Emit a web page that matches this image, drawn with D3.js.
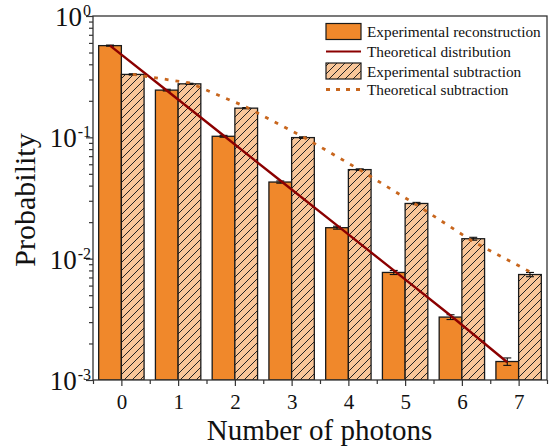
<!DOCTYPE html>
<html>
<head>
<meta charset="utf-8">
<script src="https://cdn.jsdelivr.net/npm/d3@7"></script>
<style>
  html, body { margin: 0; padding: 0; background: #fff; }
  svg { display: block; }
  text { font-family: "Liberation Serif", "Times New Roman", serif; fill: #111; }
</style>
</head>
<body>
<svg id="chart" width="550" height="448"></svg>
<script>
// ---- data ----
const photons = [0, 1, 2, 3, 4, 5, 6, 7];
const reconstruction = [0.57, 0.245, 0.102, 0.0428, 0.0180, 0.0077, 0.0033, 0.00142];
const reconstructionErr = [0.006, 0.004, 0.0018, 0.0009, 0.0005, 0.0003, 0.00015, 0.0001];
const subtraction = [0.33, 0.276, 0.174, 0.0995, 0.0542, 0.0285, 0.0146, 0.0074];
const subtractionErr = [0.004, 0.003, 0.002, 0.0015, 0.0008, 0.0006, 0.0004, 0.0003];
const theoryDistribution = [0.57, 0.243, 0.1035, 0.0441, 0.0188, 0.0080, 0.0034, 0.00140];
const theorySubtraction = [0.33, 0.281, 0.178, 0.101, 0.054, 0.0278, 0.0138, 0.0078];
const yTickValues = [1e-3, 1e-2, 1e-1, 1];
const yTickExponents = ["-3", "-2", "-1", "0"];
const legendLabels = ["Experimental reconstruction", "Theoretical distribution", "Experimental subtraction", "Theoretical subtraction"];
const xTitle = "Number of photons";
const yTitle = "Probability";

// ---- layout ----
const mLeft = 93, mRight = 547, mTop = 16, mBottom = 380;
const svg = d3.select("#chart");

const x = d3.scaleLinear().domain([-0.5, 7.5]).range([mLeft, mRight]);
const y = d3.scaleLog().domain([1e-3, 1]).range([mBottom, mTop]);
const bw = 0.4;

const ORANGE = "#f0882b";
const LIGHT = "#f9c699";
const DOTC = "#c8661d";

// hatch pattern
const defs = svg.append("defs");
const pat = defs.append("pattern").attr("id", "hatch")
  .attr("patternUnits", "userSpaceOnUse").attr("width", 8).attr("height", 8);
pat.append("rect").attr("width", 8).attr("height", 8).attr("fill", LIGHT);
pat.append("path").attr("d", "M-2,2 L2,-2 M0,8 L8,0 M6,10 L10,6")
  .attr("stroke", "#222").attr("stroke-width", 1);

defs.append("clipPath").attr("id", "clip").append("rect")
  .attr("x", mLeft).attr("y", mTop).attr("width", mRight - mLeft).attr("height", mBottom - mTop);

const plot = svg.append("g").attr("clip-path", "url(#clip)");

// bars
plot.selectAll("rect.rec").data(photons).join("rect").attr("class", "rec")
  .attr("x", d => x(d - bw))
  .attr("width", x(bw) - x(0))
  .attr("y", (d, i) => y(reconstruction[i]))
  .attr("height", (d, i) => mBottom - y(reconstruction[i]))
  .attr("fill", ORANGE).attr("stroke", "#1a1a1a").attr("stroke-width", 1.3);

plot.selectAll("rect.sub").data(photons).join("rect").attr("class", "sub")
  .attr("x", d => x(d))
  .attr("width", x(bw) - x(0))
  .attr("y", (d, i) => y(subtraction[i]))
  .attr("height", (d, i) => mBottom - y(subtraction[i]))
  .attr("fill", "url(#hatch)").attr("stroke", "#1a1a1a").attr("stroke-width", 1.3);

// error bars
function errorBars(vals, errs, off) {
  const g = plot.append("g").attr("stroke", "#111").attr("stroke-width", 1.1);
  photons.forEach((d, i) => {
    const cx = x(d + off);
    const y1 = y(vals[i] + errs[i]), y2 = y(vals[i] - errs[i]);
    g.append("line").attr("x1", cx).attr("x2", cx).attr("y1", y1).attr("y2", y2);
    g.append("line").attr("x1", cx - 4).attr("x2", cx + 4).attr("y1", y1).attr("y2", y1);
    g.append("line").attr("x1", cx - 4).attr("x2", cx + 4).attr("y1", y2).attr("y2", y2);
  });
}
errorBars(reconstruction, reconstructionErr, -bw / 2);
errorBars(subtraction, subtractionErr, bw / 2);

// theory lines
const lineDist = d3.line().x((d, i) => x(photons[i] - bw / 2)).y(d => y(d));
plot.append("path").attr("d", lineDist(theoryDistribution))
  .attr("fill", "none").attr("stroke", "#8b0000").attr("stroke-width", 2.4);

const lineSub = d3.line().x((d, i) => x(photons[i] + bw / 2)).y(d => y(d));
plot.append("path").attr("d", lineSub(theorySubtraction))
  .attr("fill", "none").attr("stroke", DOTC).attr("stroke-width", 2.8)
  .attr("stroke-dasharray", "3.8,7");

// frame
svg.append("rect").attr("x", mLeft).attr("y", mTop).attr("width", mRight - mLeft).attr("height", mBottom - mTop)
  .attr("fill", "none").attr("stroke", "#333").attr("stroke-width", 1.3);

// y axis
const yAxis = svg.append("g").attr("transform", `translate(${mLeft},0)`);
yAxis.call(d3.axisLeft(y).tickValues(yTickValues).tickSize(7).tickFormat(""));
const minor = [];
for (let e = -3; e < 0; e++) for (let m = 2; m <= 9; m++) minor.push(m * Math.pow(10, e));
yAxis.append("g").call(d3.axisLeft(y).tickValues(minor).tickSize(4).tickFormat(""));
yAxis.selectAll(".domain").remove();
yAxis.selectAll("line").attr("stroke", "#333").attr("stroke-width", 1.2);

const yl = svg.append("g");
yTickValues.forEach((v, i) => {
  const t = yl.append("text").attr("x", mLeft - 2).attr("y", y(v) + 10)
    .attr("text-anchor", "end").style("font-size", "27px");
  t.append("tspan").text("10");
  t.append("tspan").attr("dx", 1).attr("dy", -10).style("font-size", "16px").text(yTickExponents[i]);
});

// x axis
const xAxis = svg.append("g").attr("transform", `translate(0,${mBottom})`);
xAxis.call(d3.axisBottom(x).tickValues(photons).tickSize(6).tickPadding(8).tickFormat(d3.format("d")));
xAxis.append("g").call(d3.axisBottom(x).tickValues(photons.map(d => d + 0.5).concat([-0.5])).tickSize(4).tickFormat(""));
xAxis.selectAll(".domain").remove();
xAxis.selectAll("line").attr("stroke", "#333").attr("stroke-width", 1.2);
xAxis.selectAll("text").style("font-size", "21px").attr("fill", "#111");

// titles
svg.append("text").attr("x", 319.5).attr("y", 440)
  .attr("text-anchor", "middle").style("font-size", "29px").text(xTitle);
svg.append("text").attr("transform", `translate(35,200) rotate(-90)`)
  .attr("text-anchor", "middle").style("font-size", "30px").text(yTitle);

// legend
const lg = svg.append("g");
const lx = 326, lw = 35, tx = 367;
const rows = [31.5, 51.5, 71, 89.5];
lg.append("rect").attr("x", lx).attr("y", rows[0] - 8).attr("width", lw).attr("height", 16)
  .attr("fill", ORANGE).attr("stroke", "#1a1a1a").attr("stroke-width", 1.2);
lg.append("line").attr("x1", lx).attr("x2", lx + lw).attr("y1", rows[1]).attr("y2", rows[1])
  .attr("stroke", "#8b0000").attr("stroke-width", 2.2);
lg.append("rect").attr("x", lx).attr("y", rows[2] - 8).attr("width", lw).attr("height", 16)
  .attr("fill", "url(#hatch)").attr("stroke", "#1a1a1a").attr("stroke-width", 1.2);
lg.append("line").attr("x1", lx).attr("x2", lx + lw).attr("y1", rows[3]).attr("y2", rows[3])
  .attr("stroke", DOTC).attr("stroke-width", 2.8).attr("stroke-dasharray", "4,6");
legendLabels.forEach((s, i) => {
  lg.append("text").attr("x", tx).attr("y", rows[i] + 5.5).style("font-size", "15.3px").text(s);
});
</script>
</body>
</html>
